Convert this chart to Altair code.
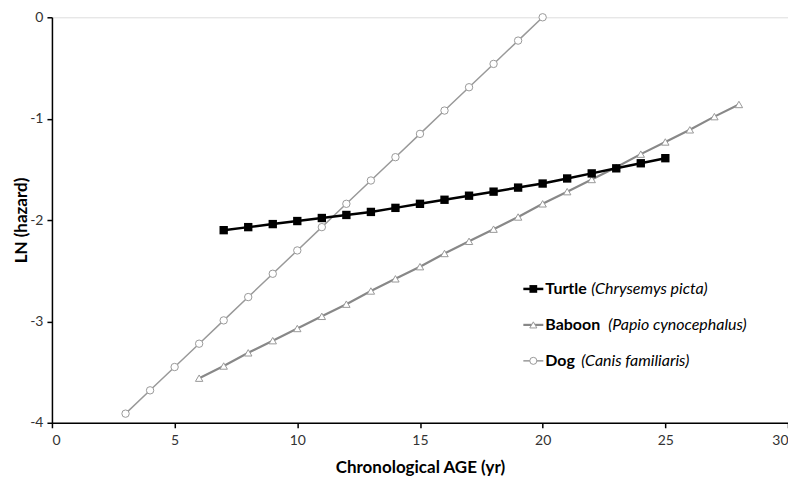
import altair as alt
import pandas as pd

turtle_age = list(range(7, 26))
turtle_ln = [-2.10, -2.07, -2.04, -2.01, -1.98, -1.95, -1.92, -1.88, -1.84, -1.80,
             -1.76, -1.72, -1.68, -1.64, -1.59, -1.54, -1.49, -1.44, -1.39]

baboon_age = list(range(6, 29))
baboon_ln = [-3.56, -3.44, -3.31, -3.19, -3.07, -2.95, -2.83, -2.70, -2.58, -2.46,
             -2.33, -2.21, -2.09, -1.97, -1.84, -1.72, -1.60, -1.48, -1.35, -1.23,
             -1.11, -0.98, -0.86]

dog_age = list(range(3, 21))
dog_ln = [-3.91, -3.68, -3.45, -3.22, -2.99, -2.76, -2.53, -2.30, -2.07, -1.84,
          -1.61, -1.38, -1.15, -0.92, -0.69, -0.46, -0.23, 0.0]

names = ["Turtle", "Baboon", "Dog"]
species = ["(Chrysemys picta)", "(Papio cynocephalus)", "(Canis familiaris)"]

FONT = "Lato"
W, H = 737, 406

x_scale = alt.Scale(domain=[0, 30], nice=False)
y_scale = alt.Scale(domain=[-4, 0], nice=False)

def series(ages, vals):
    return pd.DataFrame({"age": ages, "ln": vals})

x_enc = alt.X("age:Q", scale=x_scale,
              axis=alt.Axis(title="Chronological AGE (yr)", values=[0, 5, 10, 15, 20, 25, 30],
                            labelExpr="datum.value + ''",
                            grid=False, domainColor="black", tickColor="black",
                            tickSize=5, labelFontSize=14, labelColor="#333333",
                            labelPadding=6, titleFontSize=17, titleFontWeight="bold",
                            titlePadding=12, labelFont=FONT, titleFont=FONT,
                            domainWidth=1.5, tickWidth=1.5))
y_enc = alt.Y("ln:Q", scale=y_scale,
              axis=alt.Axis(title="LN (hazard)", values=[-4, -3, -2, -1, 0],
                            labelExpr="datum.value + ''",
                            grid=False, domainColor="black", tickColor="black",
                            tickSize=5, labelFontSize=14, labelColor="#333333",
                            labelPadding=4, titleFontSize=17, titleFontWeight="bold",
                            titleX=-30, titleY=H / 2, titleAlign="center",
                            titleBaseline="middle", titleAngle=270,
                            labelFont=FONT, titleFont=FONT,
                            domainWidth=1.5, tickWidth=1.5))

dog_df = series(dog_age, dog_ln)
baboon_df = series(baboon_age, baboon_ln)
turtle_df = series(turtle_age, turtle_ln)

dog_line = alt.Chart(dog_df).mark_line(color="#999999", strokeWidth=1.5).encode(x=x_enc, y=y_enc)
dog_pts = alt.Chart(dog_df).mark_point(shape="circle", size=55, filled=True,
                                       fill="white", stroke="#999999",
                                       strokeWidth=1, opacity=1).encode(x="age:Q", y="ln:Q")
bab_line = alt.Chart(baboon_df).mark_line(color="#888888", strokeWidth=2.2).encode(x="age:Q", y="ln:Q")
bab_pts = alt.Chart(baboon_df).mark_point(shape="triangle-up", size=55, filled=True,
                                          fill="white", stroke="#999999", strokeWidth=1,
                                          opacity=1).encode(x="age:Q", y="ln:Q")
tur_line = alt.Chart(turtle_df).mark_line(color="black", strokeWidth=2.5).encode(x="age:Q", y="ln:Q")
tur_pts = alt.Chart(turtle_df).mark_point(shape="square", size=70, filled=True,
                                          color="black", opacity=1).encode(x="age:Q", y="ln:Q")

layers = [dog_line, dog_pts, bab_line, bab_pts, tur_line, tur_pts]

# manual legend
leg_rows = [272, 308, 344]
leg_line_cols = ["black", "#888888", "#999999"]
leg_line_w = [2.5, 2.2, 1.5]
leg_shapes = ["square", "triangle-up", "circle"]
name_x = 494
species_x = [540, 557, 530]
one = pd.DataFrame({"k": [0]})
for i in range(3):
    yv = leg_rows[i]
    layers.append(alt.Chart(one).mark_rule(color=leg_line_cols[i], strokeWidth=leg_line_w[i]).encode(
        x=alt.value(472), x2=alt.value(492), y=alt.value(yv)))
    if i == 0:
        pt = alt.Chart(one).mark_point(shape="square", size=60, filled=True, color="black", opacity=1)
    else:
        pt = alt.Chart(one).mark_point(shape=leg_shapes[i], size=50, filled=True, fill="white",
                                       stroke="#999999", strokeWidth=1, opacity=1)
    layers.append(pt.encode(x=alt.value(482), y=alt.value(yv)))
    layers.append(alt.Chart(one).mark_text(text=names[i], font=FONT, fontSize=16, fontWeight="bold",
                                           align="left", baseline="middle", color="black").encode(
        x=alt.value(name_x), y=alt.value(yv)))
    layers.append(alt.Chart(one).mark_text(text=species[i], font=FONT, fontSize=16, fontStyle="italic",
                                           align="left", baseline="middle", color="black").encode(
        x=alt.value(species_x[i]), y=alt.value(yv)))

chart = alt.layer(*layers).properties(
    width=W, height=H,
    autosize=alt.AutoSizeParams(type="none"),
    padding={"left": 44, "top": 9, "right": 0, "bottom": 55},
).configure_view(stroke=None).configure(background="white")

chart.save("out.html", embed_options={"renderer": "svg", "actions": False})
